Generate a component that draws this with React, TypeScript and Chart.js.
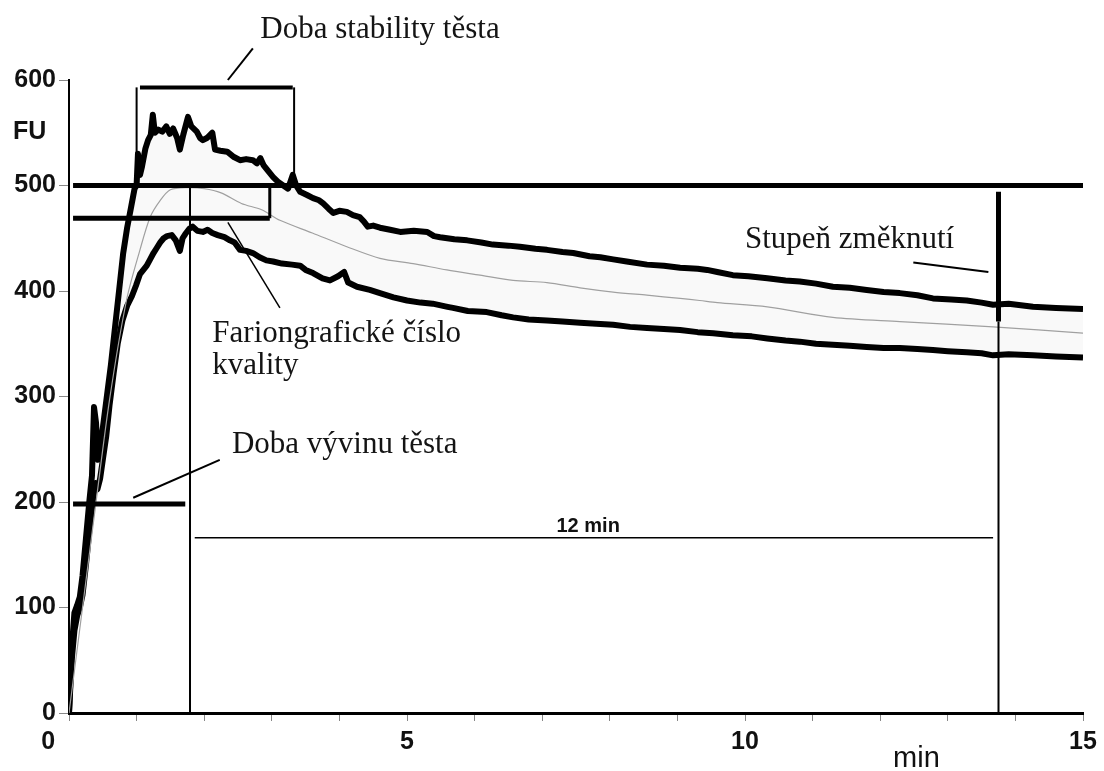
import React, { useEffect, useRef } from "react";
import { Chart, registerables } from "chart.js";

Chart.register(...registerables);

// ---- data (time in min, consistency in FU) ----
const UPPER_T = [0, 0.04, 0.08, 0.12, 0.16, 0.2, 0.25, 0.3, 0.34, 0.37, 0.4, 0.43, 0.47, 0.52, 0.57, 0.62, 0.68, 0.74, 0.8, 0.86, 0.92, 0.97, 1.0, 1.02, 1.05, 1.08, 1.13, 1.17, 1.21, 1.24, 1.27, 1.32, 1.38, 1.44, 1.49, 1.54, 1.6, 1.64, 1.69, 1.76, 1.81, 1.89, 1.94, 1.98, 2.04, 2.12, 2.16, 2.24, 2.34, 2.44, 2.53, 2.62, 2.72, 2.78, 2.83, 2.88, 2.93, 3.02, 3.1, 3.17, 3.24, 3.31, 3.36, 3.42, 3.52, 3.61, 3.7, 3.76, 3.84, 3.91, 4.0, 4.11, 4.2, 4.3, 4.36, 4.42, 4.5, 4.6, 4.75, 4.9, 5.1, 5.3, 5.4, 5.49, 5.7, 5.89, 6.1, 6.27, 6.5, 6.67, 6.9, 7.07, 7.3, 7.46, 7.7, 7.86, 8.05, 8.25, 8.55, 8.8, 9.04, 9.3, 9.44, 9.59, 9.82, 10.05, 10.33, 10.6, 10.81, 11.05, 11.3, 11.55, 11.8, 12.05, 12.29, 12.55, 12.78, 13.05, 13.28, 13.5, 13.67, 13.9, 14.26, 14.6, 15];
const UPPER_FU = [0, 60, 95, 102, 110, 130, 165, 200, 225, 290, 275, 240, 255, 280, 305, 330, 365, 400, 435, 460, 480, 497, 500, 530, 510, 518, 535, 543, 548, 567, 550, 553, 551, 556, 549, 554, 545, 534, 548, 565, 556, 551, 545, 543, 545, 550, 534, 533, 532, 527, 524, 525, 524, 521, 526, 519, 515, 508, 503, 500, 497, 510, 500, 494, 491, 488, 486, 483, 478, 474, 476, 475, 472, 470, 466, 461, 462, 460, 458, 456, 457, 456, 452, 451, 449, 448, 446, 444, 443, 442, 440, 439, 437, 436, 433, 432, 430, 428, 425, 424, 422, 421, 420, 418, 415, 414, 412, 410, 409, 407, 404, 403, 401, 399, 398, 396, 393, 392, 391, 389, 387, 388, 385, 384, 383];

const LOWER_T = [0, 0.04, 0.08, 0.12, 0.16, 0.2, 0.25, 0.3, 0.35, 0.39, 0.42, 0.46, 0.5, 0.55, 0.6, 0.66, 0.72, 0.79, 0.86, 0.93, 0.99, 1.05, 1.1, 1.15, 1.2, 1.25, 1.3, 1.35, 1.4, 1.45, 1.52, 1.58, 1.64, 1.68, 1.72, 1.78, 1.83, 1.9, 1.98, 2.05, 2.12, 2.2, 2.3, 2.38, 2.45, 2.53, 2.62, 2.72, 2.82, 2.92, 3.02, 3.15, 3.3, 3.42, 3.5, 3.61, 3.75, 3.86, 3.98, 4.07, 4.13, 4.26, 4.45, 4.6, 4.8, 5.0, 5.2, 5.38, 5.6, 5.68, 5.9, 6.18, 6.4, 6.57, 6.8, 7.07, 7.3, 7.56, 7.8, 8.05, 8.3, 8.55, 8.8, 9.04, 9.3, 9.53, 9.82, 10.1, 10.33, 10.6, 10.81, 11.05, 11.3, 11.55, 11.8, 12.05, 12.29, 12.55, 12.78, 13.0, 13.28, 13.5, 13.67, 13.9, 14.26, 14.6, 15];
const LOWER_FU = [0, 50, 78, 92, 100, 112, 140, 172, 200, 218, 212, 222, 240, 262, 292, 322, 350, 372, 386, 395, 405, 416, 420, 424, 430, 436, 441, 446, 450, 452, 453, 448, 438, 450, 454, 459, 461, 457, 456, 458, 455, 453, 451, 448, 446, 439, 438, 436, 432, 429, 428, 426, 425, 424, 420, 417, 412, 410, 414, 418, 408, 404, 401, 398, 394, 391, 389, 388, 385, 384, 381, 380, 377, 375, 373, 372, 371, 370, 369, 368, 366, 365, 364, 363, 361, 360, 358, 357, 355, 353, 352, 350, 349, 348, 347, 346, 346, 345, 344, 343, 342, 341, 339, 340, 339, 338, 337];

const MID_T = [0, 0.2, 0.4, 0.6, 0.85, 1.05, 1.2, 1.35, 1.5, 1.75, 2.0, 2.25, 2.55, 2.85, 3.12, 3.6, 4.11, 4.6, 5.09, 5.59, 6.08, 6.57, 7.07, 7.56, 8.05, 8.55, 9.04, 9.33, 9.59, 10.33, 11.3, 12.29, 13.67, 15];
const MID_FU = [0, 100, 200, 297, 391, 439, 470, 486, 496, 498, 497, 493, 483, 477, 467, 455, 442, 431, 426, 420, 415, 410, 408, 403, 399, 396, 393, 391, 389, 385, 375, 371, 366, 360];

const Y_TICKS = [0, 100, 200, 300, 400, 500, 600];
const X_LABELLED = [0, 5, 10, 15];

const TEXT_STABILITY = "Doba stability těsta";
const TEXT_QUALITY_1 = "Fariongrafické číslo";
const TEXT_QUALITY_2 = "kvality";
const TEXT_DEVELOPMENT = "Doba vývinu těsta";
const TEXT_SOFTENING = "Stupeň změknutí";
const TEXT_12MIN = "12 min";
const TEXT_FU = "FU";
const TEXT_MIN = "min";

const toPoints = (ts: number[], vs: number[]) => ts.map((t, i) => ({ x: t, y: vs[i] }));

const annotationPlugin = {
  id: "farinoAnnotations",
  afterDatasetsDraw(chart: any) {
    const { ctx } = chart;
    const xs = chart.scales.x;
    const ys = chart.scales.y;
    const px = (t: number) => xs.getPixelForValue(t);
    const py = (v: number) => ys.getPixelForValue(v);
    const segs: [number, number, number, number, number][] = [
      [0.06, 500, 15, 500, 5],
      [0.06, 469, 2.97, 469, 5],
      [2.97, 469, 2.97, 500, 3],
      [1.79, 500, 1.79, 0, 2],
      [0.06, 198, 1.72, 198, 5],
      [1.05, 593, 3.31, 593, 4],
      [1.0, 593, 1.0, 500, 2],
      [3.33, 593, 3.33, 500, 2],
      [2.35, 600, 2.72, 630, 2],
      [2.35, 465, 3.12, 384, 1.5],
      [0.95, 204, 2.23, 240, 2],
      [1.86, 166, 13.67, 166, 1.5],
      [13.75, 494, 13.75, 371, 5],
      [13.75, 371, 13.75, 0, 2],
      [12.49, 427, 13.6, 418, 2],
    ];
    ctx.save();
    ctx.strokeStyle = "#000";
    ctx.lineCap = "butt";
    for (const [t1, v1, t2, v2, w] of segs) {
      ctx.lineWidth = w;
      ctx.beginPath();
      ctx.moveTo(px(t1), py(v1));
      ctx.lineTo(px(t2), py(v2));
      ctx.stroke();
    }
    ctx.fillStyle = "#141414";
    ctx.textAlign = "left";
    ctx.textBaseline = "alphabetic";
    ctx.font = '31px "Liberation Serif", "Times New Roman", serif';
    ctx.fillText(TEXT_STABILITY, px(2.83), py(640));
    ctx.fillText(TEXT_QUALITY_1, px(2.12), py(352));
    ctx.fillText(TEXT_QUALITY_2, px(2.12), py(321));
    ctx.fillText(TEXT_DEVELOPMENT, px(2.41), py(246));
    ctx.fillText(TEXT_SOFTENING, px(10.0), py(441));
    ctx.fillStyle = "#111";
    ctx.font = 'bold 20px "Liberation Sans", Arial, sans-serif';
    ctx.textAlign = "center";
    ctx.fillText(TEXT_12MIN, px(7.68), py(172));
    ctx.textAlign = "left";
    ctx.font = 'bold 25px "Liberation Sans", Arial, sans-serif';
    ctx.fillText(TEXT_FU, px(-0.83), py(544));
    ctx.font = '29px "Liberation Sans", Arial, sans-serif';
    ctx.fillText(TEXT_MIN, px(12.19), py(-51));
    ctx.restore();
  },
};

export default function App() {
  const ref = useRef<HTMLCanvasElement | null>(null);
  useEffect(() => {
    if (!ref.current) return;
    const chart = new Chart(ref.current, {
      type: "line",
      data: {
        datasets: [
          {
            data: toPoints(UPPER_T, UPPER_FU),
            borderColor: "#000",
            borderWidth: 6,
            borderJoinStyle: "round",
            pointRadius: 0,
            tension: 0,
            fill: false,
            order: 2,
          },
          {
            data: toPoints(LOWER_T, LOWER_FU),
            borderColor: "#000",
            borderWidth: 6,
            borderJoinStyle: "round",
            pointRadius: 0,
            tension: 0,
            fill: "-1",
            backgroundColor: "rgba(0,0,0,0.025)",
            order: 1,
          },
          {
            data: toPoints(MID_T, MID_FU),
            borderColor: "#a0a0a0",
            borderWidth: 1.2,
            pointRadius: 0,
            tension: 0.3,
            fill: false,
            order: 0,
          },
        ],
      },
      options: {
        animation: false,
        responsive: true,
        maintainAspectRatio: false,
        layout: { padding: { top: 80, right: 21, left: 0, bottom: 0 } },
        plugins: { legend: { display: false }, tooltip: { enabled: false } },
        scales: {
          x: {
            type: "linear",
            min: 0,
            max: 15,
            afterFit: (s: any) => {
              s.height = 58;
            },
            afterBuildTicks: (s: any) => {
              s.ticks = Array.from({ length: 16 }, (_, i) => ({ value: i }));
            },
            ticks: {
              autoSkip: false,
              maxRotation: 0,
              padding: 6,
              color: "#111",
              font: { family: '"Liberation Sans", Arial, sans-serif', size: 25, weight: "bold" },
              callback: (v: any) => {
                const n = Number(v);
                if (!X_LABELLED.includes(n)) return "";
                return n === 0 ? "0" + "\u00a0".repeat(6) : String(n);
              },
            },
            grid: { drawOnChartArea: false, drawTicks: true, tickLength: 8, color: "#888", tickWidth: 1 },
            border: { color: "#000", width: 3 },
          },
          y: {
            type: "linear",
            min: 0,
            max: 600,
            afterFit: (s: any) => {
              s.width = 69;
            },
            afterBuildTicks: (s: any) => {
              s.ticks = Y_TICKS.map((v) => ({ value: v }));
            },
            ticks: {
              padding: 3,
              color: "#111",
              font: { family: '"Liberation Sans", Arial, sans-serif', size: 25, weight: "bold" },
            },
            grid: { drawOnChartArea: false, drawTicks: true, tickLength: 10, color: "#888", tickWidth: 1 },
            border: { color: "#000", width: 2 },
          },
        },
      },
      plugins: [annotationPlugin],
    } as any);
    return () => chart.destroy();
  }, []);
  return (
    <div style={{ position: "fixed", left: 0, top: 0, width: 1104, height: 771, background: "#fff" }}>
      <canvas ref={ref} />
    </div>
  );
}
